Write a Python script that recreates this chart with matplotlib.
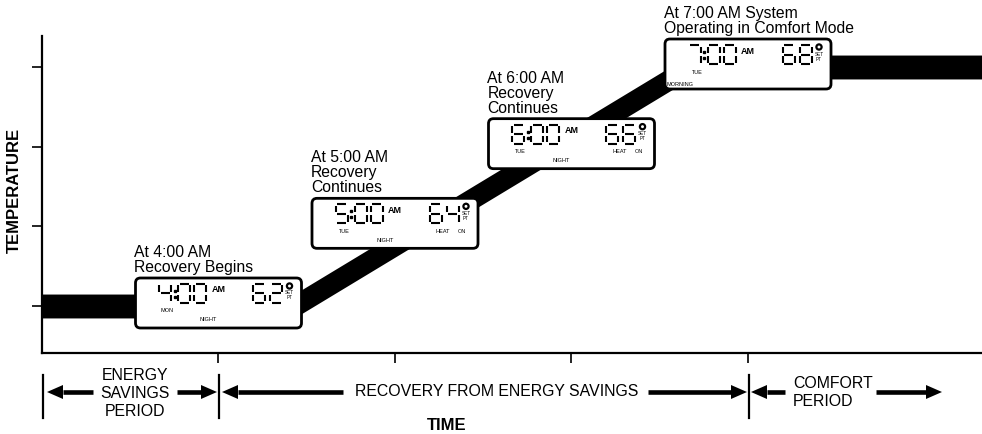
import matplotlib.pyplot as plt
from matplotlib.patches import FancyBboxPatch, Circle, Polygon
import numpy as np

plt.rcParams['font.family'] = ['Liberation Sans', 'DejaVu Sans']

# temperature band: hour of the morning vs room temperature (deg F)
band_hours = [3.0, 4.43, 6.67, 8.33]
band_temps = [62, 62, 68, 68]

# thermostat display readings
read_hours = [4, 5, 6, 7]
read_times = ['4:00', '5:00', '6:00', '7:00']
read_temps = [62, 64, 66, 68]
read_days = ['MON', 'TUE', 'TUE', 'TUE']
read_periods = ['NIGHT', 'NIGHT', 'NIGHT', 'MORNING']
read_heat = [False, True, True, False]

captions = [['At 4:00 AM', 'Recovery Begins'],
            ['At 5:00 AM', 'Recovery', 'Continues'],
            ['At 6:00 AM', 'Recovery', 'Continues'],
            ['At 7:00 AM System', 'Operating in Comfort Mode']]

# bottom period boundaries (hours)
period_edges = [3, 4, 7]

W, H = 982, 434
fig = plt.figure(figsize=(W / 100, H / 100), dpi=100)
ax = fig.add_axes([42 / W, 1 - 353 / H, 1 - 42 / W, (353 - 36) / H])
ax.set_xlim(3, 3 + 940 / 176.5)
ax.set_ylim(62 - 47 / 39.83, 68 + 31 / 39.83)

t = np.array(band_temps, dtype=float)
ax.fill_between(band_hours, t - 0.30, t + 0.30, color='black', lw=0)

for s in ['top', 'right']:
    ax.spines[s].set_visible(False)
for s in ['left', 'bottom']:
    ax.spines[s].set_linewidth(1.6)
ax.set_xticks(read_hours)
ax.set_yticks(read_temps)
ax.tick_params(length=7, width=1.2, direction='out',
               labelbottom=False, labelleft=False)

# overlay in pixel units (y down) for the annotations
ov = fig.add_axes([0, 0, 1, 1], zorder=5)
ov.set_xlim(0, W)
ov.set_ylim(H, 0)
ov.axis('off')


def to_px(x, y):
    px, py = ax.transData.transform((x, y))
    return px, H - py


SEG = {'0': 'abcdef', '1': 'bc', '2': 'abged', '3': 'abgcd', '4': 'fgbc',
       '5': 'afgcd', '6': 'afgedc', '7': 'abc', '8': 'abcdefg', '9': 'abcdfg'}


def digit(x0, y0, ch, w=12, h=19, g=1.5):
    m = y0 + h / 2
    pts = {'a': ([x0 + g, x0 + w - g], [y0, y0]),
           'b': ([x0 + w, x0 + w], [y0 + g, m - g]),
           'c': ([x0 + w, x0 + w], [m + g, y0 + h - g]),
           'd': ([x0 + g, x0 + w - g], [y0 + h, y0 + h]),
           'e': ([x0, x0], [m + g, y0 + h - g]),
           'f': ([x0, x0], [y0 + g, m - g]),
           'g': ([x0 + g, x0 + w - g], [m, m])}
    for sg in SEG[ch]:
        xs, ys = pts[sg]
        ov.plot(xs, ys, color='black', lw=1.5, solid_capstyle='butt', zorder=7)


def lcd(cx, cy, time, temp, day, period, heat, caption):
    bw, bh = 166, 50
    x0, y0 = cx - bw / 2, cy - bh / 2
    ov.add_patch(FancyBboxPatch((x0, y0), bw, bh,
                                boxstyle='round,pad=0,rounding_size=5',
                                fc='white', ec='black', lw=2, zorder=6))
    hh, mm = time.split(':')
    digit(x0 + 24, y0 + 6, hh)
    ov.plot([x0 + 39.5] * 2, [y0 + 13, y0 + 19], ls='none', marker='s',
            ms=1.6, color='black', zorder=7)
    digit(x0 + 43, y0 + 6, mm[0])
    digit(x0 + 59, y0 + 6, mm[1])
    ov.text(x0 + 76, y0 + 12, 'AM', fontsize=6.5, fontweight='bold',
            va='center', ha='left', zorder=7)
    ts = str(temp)
    digit(x0 + 118, y0 + 6, ts[0])
    digit(x0 + 135, y0 + 6, ts[1])
    ov.add_patch(Circle((x0 + 154, y0 + 8), 2.6, fc='none', ec='black',
                        lw=1.6, zorder=7))
    ov.text(x0 + 154, y0 + 15, 'SET', fontsize=3.3, ha='center',
            va='center', zorder=7)
    ov.text(x0 + 154, y0 + 20, 'PT', fontsize=3.3, ha='center',
            va='center', zorder=7)
    ov.text(x0 + 32, y0 + 33, day, fontsize=4, ha='center', va='center',
            zorder=7)
    if period == 'MORNING':
        ov.text(x0 + 15, y0 + 45, period, fontsize=4, ha='center',
                va='center', zorder=7)
    else:
        ov.text(x0 + 73, y0 + 42, period, fontsize=4, ha='center',
                va='center', zorder=7)
    if heat:
        ov.text(x0 + 131, y0 + 33, 'HEAT', fontsize=4, ha='center',
                va='center', zorder=7)
        ov.text(x0 + 150, y0 + 33, 'ON', fontsize=4, ha='center',
                va='center', zorder=7)
    n = len(caption)
    for i, line in enumerate(caption):
        ov.text(x0 - 1, y0 - 6 - (n - 1 - i) * 15, line, fontsize=11.3,
                ha='left', va='baseline', zorder=7)


for i in range(len(read_hours)):
    cx, cy = to_px(read_hours[i], read_temps[i])
    lcd(cx, cy - 3, read_times[i], read_temps[i], read_days[i],
        read_periods[i], read_heat[i], captions[i])

ov.text(14, 190, 'TEMPERATURE', rotation=90, fontsize=12,
        fontweight='bold', ha='center', va='center')
ov.text(447, 425, 'TIME', fontsize=12, fontweight='bold',
        ha='center', va='center')

# period markers under the time axis
for h in period_edges:
    px, _ = to_px(h, 62)
    ov.plot([px + 1, px + 1], [375, 418], color='black', lw=1.6)


def arrow(x_tail, x_tip, y=392):
    d = np.sign(x_tip - x_tail)
    base = x_tip - d * 16
    ov.plot([x_tail, base], [y, y], color='black', lw=3.3,
            solid_capstyle='butt')
    ov.add_patch(Polygon([[x_tip, y], [base, y - 7], [base, y + 7]],
                         closed=True, fc='black', lw=0))


arrow(93, 47)
arrow(177, 217)
arrow(343, 222)
arrow(648, 747)
arrow(785, 751)
arrow(876, 942)

for j, line in enumerate(['ENERGY', 'SAVINGS', 'PERIOD']):
    ov.text(135, 375 + j * 18.5, line, fontsize=11.4, ha='center',
            va='center')
ov.text(355, 392, 'RECOVERY FROM ENERGY SAVINGS', fontsize=11.4,
        ha='left', va='center')
ov.text(793, 383, 'COMFORT', fontsize=11.4, ha='left', va='center')
ov.text(793, 402, 'PERIOD', fontsize=11.4, ha='left', va='center')

fig.savefig('out.png', dpi=100)
